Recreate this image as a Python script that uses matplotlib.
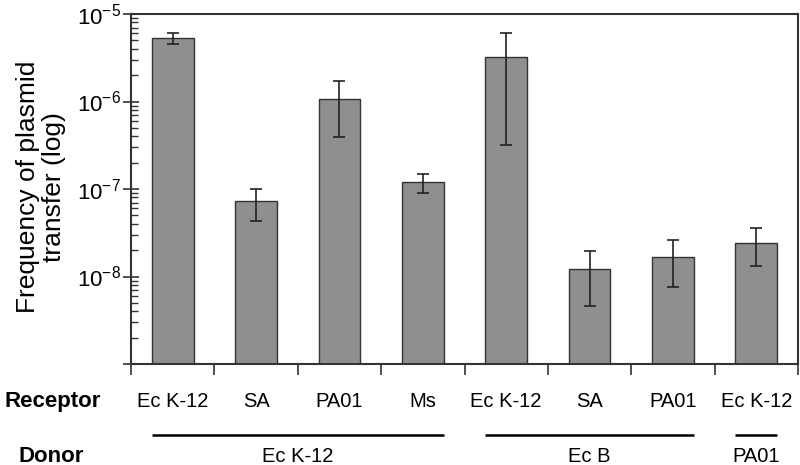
import numpy as np
import matplotlib
matplotlib.use('Agg')
import matplotlib.pyplot as plt

plt.rcParams['font.family'] = ['Liberation Sans', 'DejaVu Sans']
plt.rcParams['mathtext.fontset'] = 'custom'
plt.rcParams['mathtext.rm'] = 'Liberation Sans'
plt.rcParams['mathtext.it'] = 'Liberation Sans'

# data
receptors = ['Ec K-12', 'SA', 'PA01', 'Ms', 'Ec K-12', 'SA', 'PA01', 'Ec K-12']
freq = [5.27e-6, 7.3e-8, 1.07e-6, 1.19e-7, 3.2e-6, 1.21e-8, 1.66e-8, 2.44e-8]
err_hi = [6.0e-6, 1.01e-7, 1.73e-6, 1.5e-7, 6.06e-6, 1.95e-8, 2.59e-8, 3.56e-8]
err_lo = [4.58e-6, 4.35e-8, 3.9e-7, 8.9e-8, 3.2e-7, 4.6e-9, 7.5e-9, 1.33e-8]
donors = ['Ec K-12', 'Ec B', 'PA01']
donor_first = [0, 4, 7]   # first bar of each donor group
donor_last = [3, 6, 7]    # last bar of each donor group

freq = np.array(freq)
yerr = [freq - np.array(err_lo), np.array(err_hi) - freq]
x = np.arange(len(freq)) + 0.5

fig = plt.figure(figsize=(8, 4.65), dpi=100)
ax = fig.add_axes([131/800, 1-364/465, 667/800, 350/465])

ax.bar(x, freq, width=0.5, color='#8f8f8f', edgecolor='#333333', linewidth=1.0)
ax.errorbar(x, freq, yerr=yerr, fmt='none', ecolor='#222222', elinewidth=1.2,
            capsize=4.5, capthick=1.2)

ax.set_yscale('log')
ax.set_ylim(1e-9, 1e-5)
ax.set_xlim(0, 8)
ax.set_yticks([1e-9, 1e-8, 1e-7, 1e-6, 1e-5])
ax.set_yticklabels(['', r'$\mathregular{10^{-8}}$', r'$\mathregular{10^{-7}}$',
                    r'$\mathregular{10^{-6}}$', r'$\mathregular{10^{-5}}$'], fontsize=16)
ax.yaxis.set_minor_locator(matplotlib.ticker.LogLocator(base=10, subs=np.arange(2, 10)))
ax.yaxis.set_minor_formatter(matplotlib.ticker.NullFormatter())
ax.tick_params(axis='y', which='major', direction='inout', length=12, width=1.2,
               color='#333333', pad=1)
ax.tick_params(axis='y', which='minor', direction='in', length=5, width=1.0,
               color='#333333')
ax.set_xticks(np.arange(0, 9))
ax.set_xticklabels([])
ax.tick_params(axis='x', which='major', direction='out', length=8, width=1.2,
               color='#333333')
for s in ax.spines.values():
    s.set_linewidth(1.5)
    s.set_color('#333333')

fig.text(41/800, 1-187/465, 'Frequency of plasmid\ntransfer (log)', rotation=90,
         ha='center', va='center', fontsize=19, linespacing=1.15)

tr = ax.get_xaxis_transform()
for p, lab in zip(x, receptors):
    ax.text(p, -0.106, lab, transform=tr, ha='center', va='center', fontsize=14.5)
for a, b, lab in zip(donor_first, donor_last, donors):
    a0 = x[a] - 0.25
    b0 = x[b] + 0.25
    ax.plot([a0, b0], [-0.203, -0.203], transform=tr, color='black', lw=1.8,
            clip_on=False, solid_capstyle='butt')
    ax.text((a0 + b0) / 2, -0.263, lab, transform=tr, ha='center', va='center',
            fontsize=14.5)

fig.text(5/800, 1-401/465, 'Receptor', ha='left', va='center', fontsize=16,
         fontweight='bold')
fig.text(18/800, 1-456/465, 'Donor', ha='left', va='center', fontsize=16,
         fontweight='bold')

fig.savefig('out.png', dpi=100)
